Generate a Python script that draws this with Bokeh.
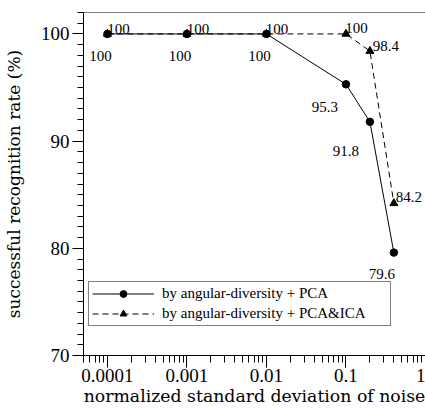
import math
from bokeh.plotting import figure
from bokeh.models import (Range1d, ColumnDataSource, Legend, LegendItem, Span,
                          SingleIntervalTicker, LogTicker, CustomJSTickFormatter)
from bokeh.core.properties import value
from bokeh.embed import file_html
from bokeh.resources import INLINE

# ---------------- data ----------------
noise = [0.0001, 0.001, 0.01, 0.1, 0.2, 0.4]
rate_pca = [100, 100, 100, 95.3, 91.8, 79.6]
rate_pca_ica = [100, 100, 100, 100, 98.4, 84.2]
series_names = ["by angular-diversity + PCA", "by angular-diversity + PCA&ICA"]
x_title = "normalized standard deviation of noise"
y_title = "successful recognition rate (%)"
x_start, x_end = 5e-5, 1.0
y_start, y_end = 70, 102
y_major_step = 10

# ---------------- label placement (pixels) ----------------
pca_dx = [-7, -7, -7, -21, -24, -12]
pca_dy = [22, 22, 22, 23, 29, 21]
ica_dx = [11, 11, 10.5, 10.5, 16, 15]
ica_dy = [-5, -5, -5, -6, -5.5, -6]

F_TEXT = "Liberation Serif"
F_TITLE = "DejaVu Serif"

p = figure(width=425, height=410, x_axis_type="log",
           x_range=Range1d(x_start, x_end), y_range=Range1d(y_start, y_end),
           output_backend="svg", toolbar_location=None,
           min_border_left=82, min_border_right=0, min_border_top=12, min_border_bottom=55)
p.outline_line_color = None
p.background_fill_color = "white"
p.border_fill_color = "white"
p.xgrid.visible = False
p.ygrid.visible = False

# top border
p.add_layout(Span(location=y_end, dimension="width", line_color="black", line_width=1))

# x axis
xa = p.xaxis[0]
xa.ticker = LogTicker(num_minor_ticks=10)
xa.formatter = CustomJSTickFormatter(code="return Number(tick.toPrecision(3)).toString();")
xa.major_tick_out = 12
xa.major_tick_in = 0
xa.minor_tick_out = 7
xa.minor_tick_in = 0
xa.major_label_standoff = 1
xa.major_label_text_font = F_TEXT
xa.major_label_text_font_size = "19px"
xa.major_label_text_color = "black"
xa.axis_line_color = "black"
xa.major_tick_line_color = "black"
xa.minor_tick_line_color = "black"
xa.axis_label = x_title
xa.axis_label_standoff = 1
xa.axis_label_text_font = F_TITLE
xa.axis_label_text_font_size = "17.3px"
xa.axis_label_text_font_style = "normal"
xa.axis_label_text_color = "black"

# y axis
ya = p.yaxis[0]
ya.ticker = SingleIntervalTicker(interval=y_major_step, num_minor_ticks=10)
ya.major_tick_out = 11
ya.major_tick_in = 0
ya.minor_tick_out = 6
ya.minor_tick_in = 0
ya.major_label_standoff = 3
ya.major_label_text_font = F_TEXT
ya.major_label_text_font_size = "19px"
ya.major_label_text_color = "black"
ya.axis_line_color = "black"
ya.major_tick_line_color = "black"
ya.minor_tick_line_color = "black"
ya.axis_label = y_title
ya.axis_label_standoff = 14
ya.axis_label_text_font = F_TITLE
ya.axis_label_text_font_size = "17px"
ya.axis_label_text_font_style = "normal"
ya.axis_label_text_color = "black"

# series
r_ica_line = p.line(noise, rate_pca_ica, line_color="black", line_width=1, line_dash="6 4")
r_ica_pts = p.scatter(noise, rate_pca_ica, marker="triangle", size=8,
                      fill_color="black", line_color="black")
r_pca_line = p.line(noise, rate_pca, line_color="black", line_width=1)
r_pca_pts = p.scatter(noise, rate_pca, marker="circle", size=7.5,
                      fill_color="black", line_color="black")

# value labels
src_pca = ColumnDataSource(dict(x=noise, y=rate_pca, t=[f"{v:g}" for v in rate_pca],
                                dx=pca_dx, dy=pca_dy))
src_ica = ColumnDataSource(dict(x=noise, y=rate_pca_ica, t=[f"{v:g}" for v in rate_pca_ica],
                                dx=ica_dx, dy=ica_dy))
for src in (src_pca, src_ica):
    p.text(x="x", y="y", text="t", x_offset="dx", y_offset="dy", source=src,
           text_align="center", text_baseline="alphabetic",
           text_font=value(F_TEXT), text_font_size="15px", text_color="black")

# legend
legend = Legend(items=[LegendItem(label=series_names[0], renderers=[r_pca_line, r_pca_pts]),
                       LegendItem(label=series_names[1], renderers=[r_ica_line, r_ica_pts])],
                location=(5, 29), margin=0, padding=3, spacing=3,
                glyph_width=62, glyph_height=17, label_height=17, label_width=225,
                label_standoff=8, label_text_font=F_TEXT, label_text_font_size="15px",
                label_text_color="black", border_line_color="black", border_line_width=1,
                background_fill_color="white", background_fill_alpha=1)
p.add_layout(legend)

open("out.html", "w").write(file_html(p, INLINE))
